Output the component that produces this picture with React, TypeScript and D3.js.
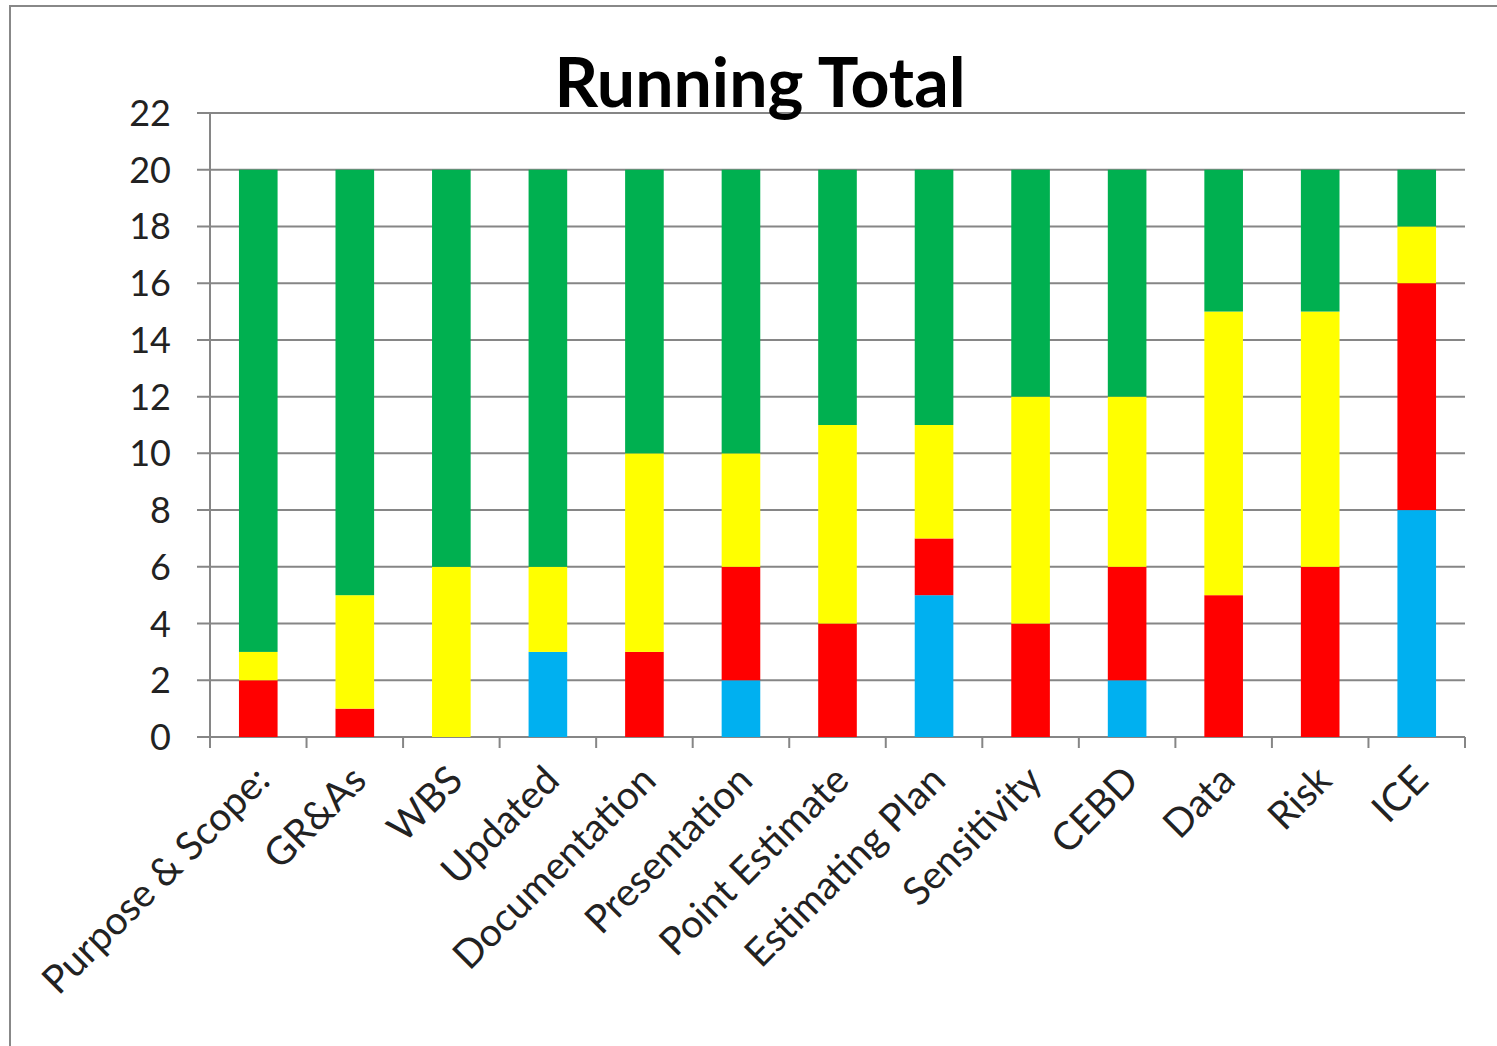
import React from "react";
import * as d3 from "d3";

const categories = [
  "Purpose & Scope:", "GR&As", "WBS", "Updated", "Documentation", "Presentation",
  "Point Estimate", "Estimating Plan", "Sensitivity", "CEBD", "Data", "Risk", "ICE",
];
const blueVals = [0, 0, 0, 3, 0, 2, 0, 5, 0, 2, 0, 0, 8];
const redVals = [2, 1, 0, 0, 3, 4, 4, 2, 4, 4, 5, 6, 8];
const yellowVals = [1, 4, 6, 3, 7, 4, 7, 4, 8, 6, 10, 9, 2];
const greenVals = [17, 15, 14, 14, 10, 10, 9, 9, 8, 8, 5, 5, 2];
const yTicks = [0, 2, 4, 6, 8, 10, 12, 14, 16, 18, 20, 22];
const seriesKeys = ["blue", "red", "yellow", "green"];
const seriesColors: Record<string, string> = {
  blue: "#00B0F0", red: "#FF0000", yellow: "#FFFF00", green: "#00B050",
};

const W = 1497, H = 1046;
const left = 210, right = 1465, top = 113, bottom = 737;

export default function App() {
  const rows = categories.map((c, i) => ({
    cat: c, blue: blueVals[i], red: redVals[i], yellow: yellowVals[i], green: greenVals[i],
  }));
  const stack = d3.stack<any>().keys(seriesKeys)(rows);
  const x = d3.scaleBand().domain(categories).range([left, right]).padding(0);
  const y = d3.scaleLinear().domain([0, 22]).range([bottom, top]);
  const bw = x.bandwidth() * 0.4;
  const font = "Lato, 'Open Sans', sans-serif";
  return (
    <svg width={W} height={H} style={{ position: "absolute", left: 0, top: 0, background: "#fff" }}>
      <rect x={10} y={6} width={1600} height={1200} fill="#fff" stroke="#888" strokeWidth={2} />
      {yTicks.map((t) => (
        <line key={t} x1={197} x2={right} y1={y(t)} y2={y(t)} stroke="#868686" strokeWidth={2} />
      ))}
      <line x1={left} x2={left} y1={top} y2={bottom} stroke="#868686" strokeWidth={2} />
      {d3.range(categories.length + 1).map((i) => {
        const xx = left + i * x.step();
        return <line key={i} x1={xx} x2={xx} y1={bottom} y2={bottom + 11} stroke="#868686" strokeWidth={2} />;
      })}
      {stack.map((s) => (
        <g key={s.key} fill={seriesColors[s.key]}>
          {s.map((d, i) => (
            <rect key={i} x={(x(categories[i]) as number) + x.bandwidth() / 2 - bw / 2}
              y={y(d[1])} width={bw} height={Math.max(0, y(d[0]) - y(d[1]))} />
          ))}
        </g>
      ))}
      {yTicks.map((t) => (
        <text key={t} x={171} y={y(t)} dy="0.36em" textAnchor="end" fontFamily={font}
          fontSize={36} fill="#222">{t}</text>
      ))}
      {categories.map((c) => {
        const cx = (x(c) as number) + x.bandwidth() / 2 + 4;
        const cy = bottom + 36;
        return (
          <text key={c} transform={`translate(${cx},${cy}) rotate(-45)`} textAnchor="end"
            fontFamily={font} fontSize={39} fill="#222" dy="0.35em">{c}</text>
        );
      })}
      <text x={760} y={107} textAnchor="middle" fontFamily={font} fontWeight="bold" fontSize={68} fill="#000">
        Running Total
      </text>
    </svg>
  );
}
